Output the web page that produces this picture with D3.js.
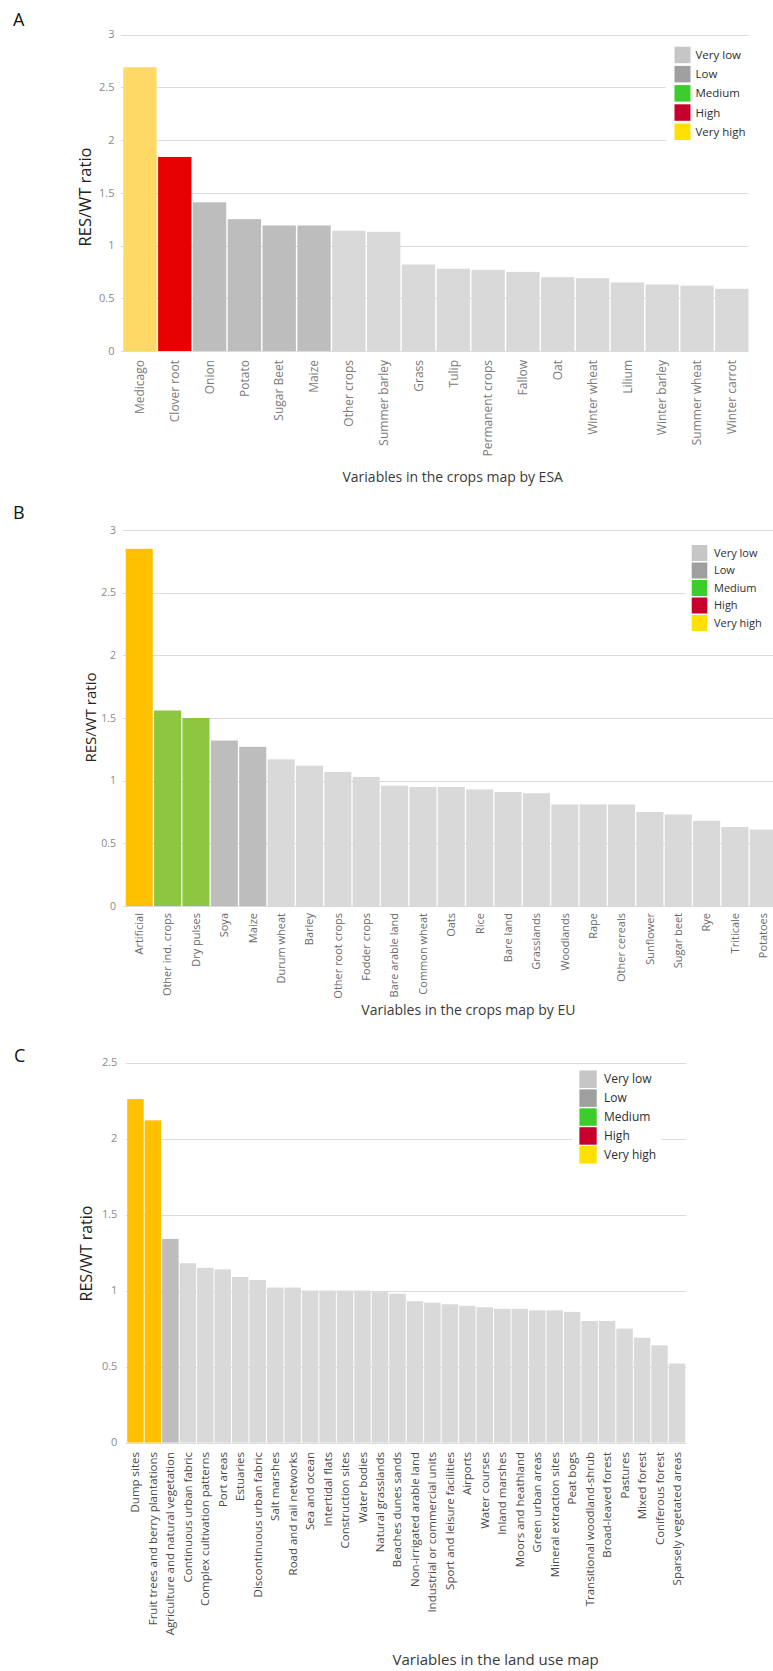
<!DOCTYPE html>
<html>
<head>
<meta charset="utf-8">
<script src="https://cdn.jsdelivr.net/npm/d3@7"></script>
<style>
  html, body { margin: 0; padding: 0; background: #fff; }
  svg { display: block; font-family: "Open Sans", "DejaVu Sans", sans-serif; }
</style>
</head>
<body>
<svg id="fig" width="773" height="1671"></svg>
<script>
// ---- Panel A: crops map by ESA ----
const esaCrops = ["Medicago", "Clover root", "Onion", "Potato", "Sugar Beet", "Maize",
  "Other crops", "Summer barley", "Grass", "Tulip", "Permanent crops", "Fallow", "Oat",
  "Winter wheat", "Lilium", "Winter barley", "Summer wheat", "Winter carrot"];
const esaRatio = [2.69, 1.84, 1.41, 1.25, 1.19, 1.19, 1.14, 1.13, 0.82, 0.78, 0.77, 0.75,
  0.70, 0.69, 0.65, 0.63, 0.62, 0.59];
const esaLevel = ["vh", "h", "l", "l", "l", "l", "vl", "vl", "vl", "vl", "vl", "vl", "vl",
  "vl", "vl", "vl", "vl", "vl"];

// ---- Panel B: crops map by EU ----
const euCrops = ["Artificial", "Other ind. crops", "Dry pulses", "Soya", "Maize",
  "Durum wheat", "Barley", "Other root crops", "Fodder crops", "Bare arable land",
  "Common wheat", "Oats", "Rice", "Bare land", "Grasslands", "Woodlands", "Rape",
  "Other cereals", "Sunflower", "Sugar beet", "Rye", "Triticale", "Potatoes"];
const euRatio = [2.85, 1.56, 1.50, 1.32, 1.27, 1.17, 1.12, 1.07, 1.03, 0.96, 0.95, 0.95,
  0.93, 0.91, 0.90, 0.81, 0.81, 0.81, 0.75, 0.73, 0.68, 0.63, 0.61];
const euLevel = ["vh", "m", "m", "l", "l", "vl", "vl", "vl", "vl", "vl", "vl", "vl", "vl",
  "vl", "vl", "vl", "vl", "vl", "vl", "vl", "vl", "vl", "vl"];

// ---- Panel C: land use map ----
const landUse = ["Dump sites", "Fruit trees and berry plantations",
  "Agriculture and natural vegetation", "Continuous urban fabric",
  "Complex cultivation patterns", "Port areas", "Estuaries", "Discontinuous urban fabric",
  "Salt marshes", "Road and rail networks", "Sea and ocean", "Intertidal flats",
  "Construction sites", "Water bodies", "Natural grasslands", "Beaches dunes sands",
  "Non-irrigated arable land", "Industrial or commercial units",
  "Sport and leisure facilities", "Airports", "Water courses", "Inland marshes",
  "Moors and heathland", "Green urban areas", "Mineral extraction sites", "Peat bogs",
  "Transitional woodland-shrub", "Broad-leaved forest", "Pastures", "Mixed forest",
  "Coniferous forest", "Sparsely vegetated areas"];
const landRatio = [2.26, 2.12, 1.34, 1.18, 1.15, 1.14, 1.09, 1.07, 1.02, 1.02, 1.00, 1.00,
  1.00, 1.00, 0.99, 0.98, 0.93, 0.92, 0.91, 0.90, 0.89, 0.88, 0.88, 0.87, 0.87, 0.86,
  0.80, 0.80, 0.75, 0.69, 0.64, 0.52];
const landLevel = ["vh", "vh", "l", "vl", "vl", "vl", "vl", "vl", "vl", "vl", "vl", "vl",
  "vl", "vl", "vl", "vl", "vl", "vl", "vl", "vl", "vl", "vl", "vl", "vl", "vl", "vl",
  "vl", "vl", "vl", "vl", "vl", "vl"];

// ---- shared axis / legend text ----
const ticks3 = [0, 0.5, 1, 1.5, 2, 2.5, 3];
const ticks25 = [0, 0.5, 1, 1.5, 2, 2.5];
const legendKeys = ["vl", "l", "m", "h", "vh"];
const legendLabels = ["Very low", "Low", "Medium", "High", "Very high"];
const yTitle = "RES/WT ratio";

const legendColor = { vl: "#c6c6c6", l: "#9f9f9f", m: "#3ccc2c", h: "#c8002e", vh: "#ffe000" };

const svg = d3.select("#fig");

function panel(cfg) {
  const g = svg.append("g");
  const y = d3.scaleLinear().domain([0, cfg.yMax]).range([cfg.y0, cfg.y1]);
  const n = cfg.cats.length;
  const step = (cfg.x1 - cfg.x0) / n;
  const x = d3.scaleBand().domain(cfg.cats).range([cfg.x0, cfg.x1])
    .paddingInner(cfg.gap / step).paddingOuter(0);

  // panel letter
  g.append("text").attr("x", cfg.letterX).attr("y", cfg.letterY)
    .attr("font-size", 18).attr("fill", "#111").text(cfg.letter);

  // horizontal grid
  g.append("g").selectAll("line").data(cfg.ticks).join("line")
    .attr("x1", cfg.gx0).attr("x2", cfg.gx1)
    .attr("y1", d => Math.round(y(d)) + 0.5).attr("y2", d => Math.round(y(d)) + 0.5)
    .attr("stroke", "#dcdcdc").attr("stroke-width", 1.2);

  // y tick labels
  g.append("g").selectAll("text").data(cfg.ticks).join("text")
    .attr("x", cfg.tickX).attr("y", d => y(d)).attr("dy", "0.35em")
    .attr("text-anchor", "end").attr("font-size", cfg.tickSize).attr("fill", "#8a8a8a")
    .text(d => d3.format("")(d));

  // bars
  g.append("g").selectAll("rect").data(cfg.vals).join("rect")
    .attr("x", (d, i) => x(cfg.cats[i])).attr("width", x.bandwidth())
    .attr("y", d => y(d)).attr("height", d => y(0) - y(d))
    .attr("fill", (d, i) => cfg.palette[cfg.levels[i]]);

  // category labels
  g.append("g").selectAll("text").data(cfg.cats).join("text")
    .attr("transform", d => `translate(${x(d) + x.bandwidth() / 2},${cfg.labelTop}) rotate(-90)`)
    .attr("dy", "0.35em").attr("text-anchor", "end")
    .attr("font-size", cfg.labelSize).attr("fill", cfg.labelColor).text(d => d);

  // axis titles
  g.append("text").attr("transform", `translate(${cfg.yTitleX},${cfg.yTitleY}) rotate(-90)`)
    .attr("dy", "0.35em").attr("text-anchor", "middle")
    .attr("font-size", cfg.yTitleSize).attr("fill", "#222").text(yTitle);
  g.append("text").attr("x", cfg.xTitleX).attr("y", cfg.xTitleY)
    .attr("text-anchor", "middle").attr("font-size", cfg.xTitleSize)
    .attr("fill", "#3a3a3a").text(cfg.xTitle);

  // legend
  const L = cfg.legend;
  g.append("rect").attr("x", L.bx).attr("y", L.by).attr("width", L.bw).attr("height", L.bh)
    .attr("fill", "#fff");
  const li = g.append("g").selectAll("g").data(legendKeys).join("g")
    .attr("transform", (d, i) => `translate(${L.x},${L.y + i * L.step})`);
  li.append("rect").attr("width", L.sw).attr("height", L.sh)
    .attr("fill", d => legendColor[d]);
  li.append("text").attr("x", L.tx).attr("y", L.sh / 2).attr("dy", "0.35em")
    .attr("font-size", L.fs).attr("fill", "#2e2e2e")
    .text((d, i) => legendLabels[i]);
}

panel({
  letter: "A", letterX: 13, letterY: 26,
  cats: esaCrops, vals: esaRatio, levels: esaLevel,
  palette: { vh: "#ffd966", h: "#e60000", l: "#bdbdbd", vl: "#d9d9d9" },
  yMax: 3, ticks: ticks3, y0: 351, y1: 34.6,
  x0: 123.3, x1: 748.5, gap: 1.5, gx0: 120.8, gx1: 748.5,
  tickX: 114.5, tickSize: 11,
  labelTop: 360, labelSize: 12, labelColor: "#7a7a7a",
  yTitleX: 85, yTitleY: 197, yTitleSize: 16.5,
  xTitle: "Variables in the crops map by ESA", xTitleX: 452.7, xTitleY: 482, xTitleSize: 14,
  legend: { bx: 666, by: 41, bw: 96, bh: 105, x: 674.5, y: 46.7, step: 19.2,
            sw: 16, sh: 16.5, tx: 21, fs: 11.5 }
});

panel({
  letter: "B", letterX: 13, letterY: 519,
  cats: euCrops, vals: euRatio, levels: euLevel,
  palette: { vh: "#ffc000", m: "#8dc63f", l: "#bdbdbd", vl: "#d9d9d9" },
  yMax: 3, ticks: ticks3, y0: 906, y1: 530,
  x0: 125.7, x1: 776.9, gap: 1.3, gx0: 123, gx1: 773,
  tickX: 116, tickSize: 10.5,
  labelTop: 913, labelSize: 11, labelColor: "#6b6b6b",
  yTitleX: 91.2, yTitleY: 717.5, yTitleSize: 15,
  xTitle: "Variables in the crops map by EU", xTitleX: 468.4, xTitleY: 1015, xTitleSize: 14,
  legend: { bx: 686, by: 540, bw: 87, bh: 93, x: 691.7, y: 545, step: 17.5,
            sw: 15.6, sh: 16, tx: 22.3, fs: 11 }
});

panel({
  letter: "C", letterX: 14, letterY: 1062,
  cats: landUse, vals: landRatio, levels: landLevel,
  palette: { vh: "#ffc000", l: "#bdbdbd", vl: "#d9d9d9" },
  yMax: 2.5, ticks: ticks25, y0: 1442.6, y1: 1062.6,
  x0: 127.2, x1: 685.2, gap: 1.0, gx0: 125.7, gx1: 686.4,
  tickX: 117.4, tickSize: 11,
  labelTop: 1452, labelSize: 11.5, labelColor: "#4a4a4a",
  yTitleX: 86.3, yTitleY: 1253.5, yTitleSize: 16,
  xTitle: "Variables in the land use map", xTitleX: 495.6, xTitleY: 1665, xTitleSize: 15,
  legend: { bx: 572, by: 1066, bw: 89, bh: 102, x: 579.4, y: 1070.5, step: 18.9,
            sw: 17.3, sh: 17.5, tx: 24.6, fs: 12 }
});
</script>
</body>
</html>
